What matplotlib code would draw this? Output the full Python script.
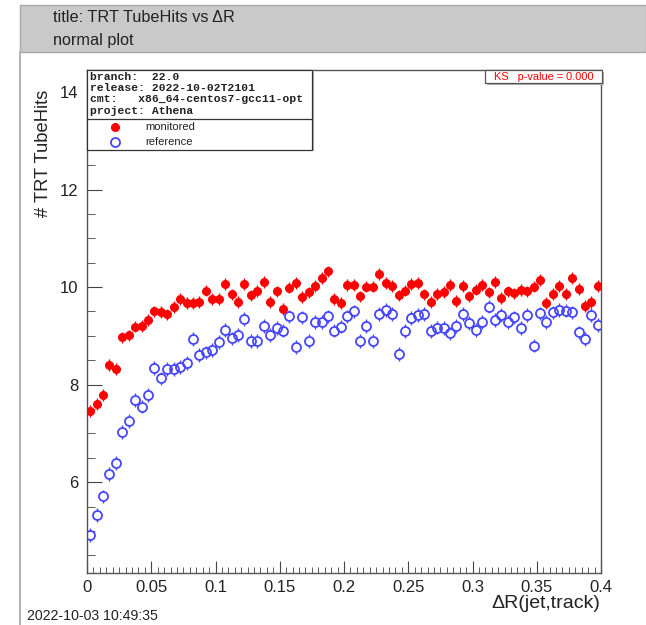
import numpy as np
import matplotlib
matplotlib.use('Agg')
from matplotlib import pyplot as plt
from matplotlib.patches import Rectangle
from matplotlib.lines import Line2D
from matplotlib.ticker import MultipleLocator

plt.rcParams['font.family'] = ['Liberation Sans', 'DejaVu Sans']

# histogram: 80 bins of width 0.005 between 0 and 0.4
bin_width = 0.005
n_bins = 80

monitored = [7.46, 7.61, 7.79, 8.41, 8.32, 8.97, 9.01, 9.19, 9.21, 9.33,
             9.50, 9.49, 9.44, 9.59, 9.76, 9.68, 9.67, 9.70, 9.93, 9.76,
             9.76, 10.07, 9.85, 9.69, 10.07, 9.83, 9.92, 10.11, 9.69, 9.91,
             9.55, 9.99, 10.08, 9.79, 9.89, 10.02, 10.19, 10.32, 9.75, 9.67,
             10.04, 10.05, 9.81, 10.01, 10.01, 10.27, 10.08, 10.02, 9.83, 9.93,
             10.07, 10.09, 9.85, 9.69, 9.86, 9.90, 10.05, 9.72, 10.02, 9.81,
             9.95, 10.05, 9.89, 10.11, 9.77, 9.91, 9.87, 9.94, 9.91, 10.01,
             10.15, 9.68, 9.86, 10.02, 9.86, 10.18, 9.96, 9.61, 9.69, 10.02]
reference = [4.92, 5.33, 5.71, 6.17, 6.39, 7.03, 7.26, 7.69, 7.55, 7.79,
             8.34, 8.13, 8.32, 8.32, 8.36, 8.45, 8.93, 8.61, 8.66, 8.71,
             8.87, 9.12, 8.95, 9.02, 9.34, 8.90, 8.90, 9.20, 9.02, 9.16,
             9.11, 9.40, 8.77, 9.38, 8.90, 9.29, 9.29, 9.40, 9.11, 9.19,
             9.40, 9.50, 8.90, 9.20, 8.90, 9.45, 9.53, 9.45, 8.63, 9.10,
             9.36, 9.43, 9.45, 9.10, 9.17, 9.16, 9.05, 9.20, 9.45, 9.26,
             9.12, 9.29, 9.60, 9.33, 9.43, 9.29, 9.38, 9.16, 9.43, 8.80,
             9.46, 9.29, 9.48, 9.53, 9.52, 9.48, 9.07, 8.93, 9.43, 9.23]
monitored_err = 0.12
reference_err = 0.14

info_lines = ['branch:  22.0',
              'release: 2022-10-02T2101',
              'cmt:   x86_64-centos7-gcc11-opt',
              'project: Athena']

W, H = 646, 625


def fx(px):
    return px / W


def fy(py):
    return 1 - py / H


fig = plt.figure(figsize=(W / 100, H / 100), dpi=100)

# page decoration
fig.add_artist(Rectangle((fx(20), fy(52)), 1 - fx(20), fy(5) - fy(52), transform=fig.transFigure,
                         facecolor='#c9c9c9', edgecolor='#a8a8a8', lw=1))
fig.add_artist(Line2D([fx(20), fx(20)], [fy(52), 0], transform=fig.transFigure, color='#b5b5b5', lw=1.5))
fig.text(fx(53), fy(17), 'title: TRT TubeHits vs \u0394R', va='center', fontsize=11.7, color='#222222')
fig.text(fx(53), fy(40), 'normal plot', va='center', fontsize=11.7, color='#222222')
fig.text(fx(27), fy(616), '2022-10-03 10:49:35', va='center', fontsize=10.2, color='#222222')

ax = fig.add_axes([fx(87), fy(573), fx(601) - fx(87), fy(70) - fy(573)])
x = (np.arange(n_bins) + 0.5) * bin_width
mon = np.array(monitored)
ref = np.array(reference)

ax.errorbar(x, mon, yerr=monitored_err, fmt='o', color='red', ms=5.5, elinewidth=1, capsize=0, zorder=3)
r = 0.09
ax.vlines(x, ref + r, ref + reference_err, color='#4646ff', lw=1, zorder=2)
ax.vlines(x, ref - reference_err, ref - r, color='#4646ff', lw=1, zorder=2)
ax.plot(x, ref, 'o', mfc='none', mec='#4646ff', ms=6.5, mew=1.3, zorder=2)

ax.set_xlim(0, 0.4)
ax.set_ylim(4.14, 14.45)
ax.set_xticks(np.arange(0, 0.401, 0.05))
ax.set_xticklabels(['0', '0.05', '0.1', '0.15', '0.2', '0.25', '0.3', '0.35', '0.4'])
ax.xaxis.set_minor_locator(MultipleLocator(0.005))
ax.set_yticks([6, 8, 10, 12, 14])
ax.yaxis.set_minor_locator(MultipleLocator(0.5))
ax.tick_params(which='both', direction='in', colors='#444444', labelcolor='#222222', labelsize=12)
ax.tick_params(axis='x', which='major', length=9, pad=5)
ax.tick_params(axis='x', which='minor', length=4.5)
ax.tick_params(axis='y', which='major', length=11, pad=6)
ax.tick_params(axis='y', which='minor', length=5.5)
for s in ax.spines.values():
    s.set_color('#555555')
    s.set_linewidth(1)

fig.text(fx(44), fy(90), '# TRT TubeHits', rotation=90, ha='center', va='top', fontsize=13.2, color='#222222')
fig.text(fx(600), fy(603), '\u0394R(jet,track)', ha='right', va='center', fontsize=14, color='#222222')

# info + legend box
fig.add_artist(Rectangle((fx(88.5), fy(151.5)), fx(313.5) - fx(88.5), fy(71.5) - fy(151.5),
                         transform=fig.transFigure, facecolor='#b0b0b0', edgecolor='none'))
fig.add_artist(Rectangle((fx(87), fy(150)), fx(312) - fx(87), fy(70) - fy(150), transform=fig.transFigure,
                         facecolor='white', edgecolor='#333333', lw=0.9))
fig.add_artist(Line2D([fx(87), fx(312)], [fy(119), fy(119)], transform=fig.transFigure, color='#333333', lw=0.9))
for i, line in enumerate(info_lines):
    fig.text(fx(90), fy(76.5 + i * 11.5), line, va='center', family='Liberation Mono', weight='bold',
             fontsize=8.2, color='#222222')
fig.add_artist(Line2D([fx(115)], [fy(127)], transform=fig.transFigure, marker='o', color='red', ms=5.5))
fig.add_artist(Line2D([fx(115)], [fy(142)], transform=fig.transFigure, marker='o', mfc='none',
                      mec='#4646ff', ms=6.5, mew=1.3))
fig.text(fx(145), fy(127), 'monitored', va='center', fontsize=8, color='#222222')
fig.text(fx(145), fy(142), 'reference', va='center', fontsize=8, color='#222222')

# KS box
fig.add_artist(Rectangle((fx(486.5), fy(84.5)), fx(603.5) - fx(486.5), fy(71.5) - fy(84.5),
                         transform=fig.transFigure, facecolor='#b0b0b0', edgecolor='none'))
fig.add_artist(Rectangle((fx(485), fy(83)), fx(602) - fx(485), fy(70) - fy(83), transform=fig.transFigure,
                         facecolor='white', edgecolor='#555555', lw=0.9))
fig.text(fx(543.5), fy(76.7), 'KS   p-value = 0.000', ha='center', va='center', fontsize=7.9, color='red')

plt.savefig('out.png', dpi=100)
